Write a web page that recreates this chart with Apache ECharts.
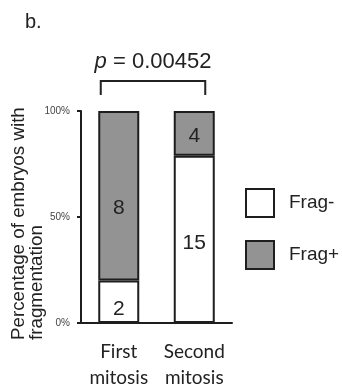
<!DOCTYPE html>
<html><head><meta charset="utf-8">
<script src="https://cdn.jsdelivr.net/npm/echarts@6/dist/echarts.min.js"></script>
<style>html,body{margin:0;padding:0;background:#fff}#c{width:342px;height:391px}</style>
</head><body><div id="c"></div>
<script>
var categories = ['First\nmitosis', 'Second\nmitosis'];
var fragNeg = [2, 15];
var fragPos = [8, 4];
var yTicks = [0, 50, 100];
var pText = '0.00452';
var yTitle = ['Percentage of embryos with', 'fragmentation'];

// label nudges (style only)
var negLabelOffset = [[0, 7], [0, 4]];
var posLabelOffset = [[0, 12], [0, 3]];

var totals = fragNeg.map(function (v, i) { return v + fragPos[i]; });
var negPct = fragNeg.map(function (v, i) { return v / totals[i] * 100; });
var posPct = fragPos.map(function (v, i) { return v / totals[i] * 100; });

var FONT = 'Liberation Sans, Arial, sans-serif';
var chart = echarts.init(document.getElementById('c'));
var border = { borderColor: '#1e1e1e', borderWidth: 2 };
var labelBase = { show: true, position: 'inside', fontFamily: FONT, fontSize: 21, color: '#222' };

var option = {
  animation: false,
  grid: { left: 81, right: 110, top: 111, bottom: 65 },
  legend: {
    orient: 'vertical', left: 240, top: 183, itemWidth: 28, itemHeight: 28, itemGap: 22,
    icon: 'rect',
    data: ['Frag-', 'Frag+'],
    textStyle: { fontFamily: FONT, fontSize: 19, color: '#222', padding: [0, 0, 0, 10] }
  },
  xAxis: {
    type: 'category', data: categories,
    axisLine: { lineStyle: { color: '#1e1e1e', width: 2 } },
    axisTick: { show: false },
    axisLabel: { interval: 0, fontFamily: 'Lato, Open Sans, sans-serif', fontSize: 19, color: '#222', lineHeight: 26, margin: 16 }
  },
  yAxis: {
    type: 'value', min: 0, max: 100, interval: 50,
    splitLine: { show: false },
    axisLine: { show: true, lineStyle: { color: '#1e1e1e', width: 2 } },
    axisTick: { show: true, length: 4, lineStyle: { color: '#1e1e1e', width: 2 } },
    axisLabel: { fontFamily: FONT, fontSize: 10, color: '#444', margin: 11,
      formatter: function (v) { return yTicks.indexOf(v) >= 0 ? v + '%' : ''; } }
  },
  series: [
    { name: 'Frag-', type: 'bar', stack: 's', barWidth: 41,
      data: negPct.map(function (v, i) { return { value: v, label: { offset: negLabelOffset[i] } }; }),
      itemStyle: Object.assign({ color: '#ffffff' }, border),
      label: Object.assign({ formatter: function (p) { return fragNeg[p.dataIndex]; } }, labelBase) },
    { name: 'Frag+', type: 'bar', stack: 's', barWidth: 41,
      data: posPct.map(function (v, i) { return { value: v, label: { offset: posLabelOffset[i] } }; }),
      itemStyle: Object.assign({ color: '#939393' }, border),
      label: Object.assign({ formatter: function (p) { return fragPos[p.dataIndex]; } }, labelBase) }
  ]
};
chart.setOption(option);

var x1 = chart.convertToPixel({ xAxisIndex: 0 }, 0);
var x2 = chart.convertToPixel({ xAxisIndex: 0 }, 1);
var bx1 = x1 - 18, bx2 = x2 + 11;
chart.setOption({
  graphic: [
    { type: 'text', x: 25, y: 22.5, style: { text: 'b.', fontFamily: FONT, fontSize: 20, fill: '#222', textVerticalAlign: 'middle' } },
    { type: 'text', x: (bx1 + bx2) / 2, y: 62, style: {
        text: '{i|p} = ' + pText, textAlign: 'center', textVerticalAlign: 'middle',
        fontFamily: FONT, fontSize: 22, fill: '#222',
        rich: { i: { fontStyle: 'italic', fontFamily: FONT, fontSize: 22, fill: '#222' } } } },
    { type: 'polyline', shape: { points: [[bx1, 95], [bx1, 81], [bx2, 81], [bx2, 95]] },
      style: { stroke: '#222', lineWidth: 2, fill: null } },
    { type: 'text', x: 18.5, y: 340, rotation: Math.PI / 2, style: {
        text: yTitle[0], fontFamily: FONT, fontSize: 18.8, fill: '#222', textAlign: 'left', textVerticalAlign: 'middle' } },
    { type: 'text', x: 36.5, y: 340, rotation: Math.PI / 2, style: {
        text: yTitle[1], fontFamily: FONT, fontSize: 18.8, fill: '#222', textAlign: 'left', textVerticalAlign: 'middle' } }
  ]
});
</script></body></html>
